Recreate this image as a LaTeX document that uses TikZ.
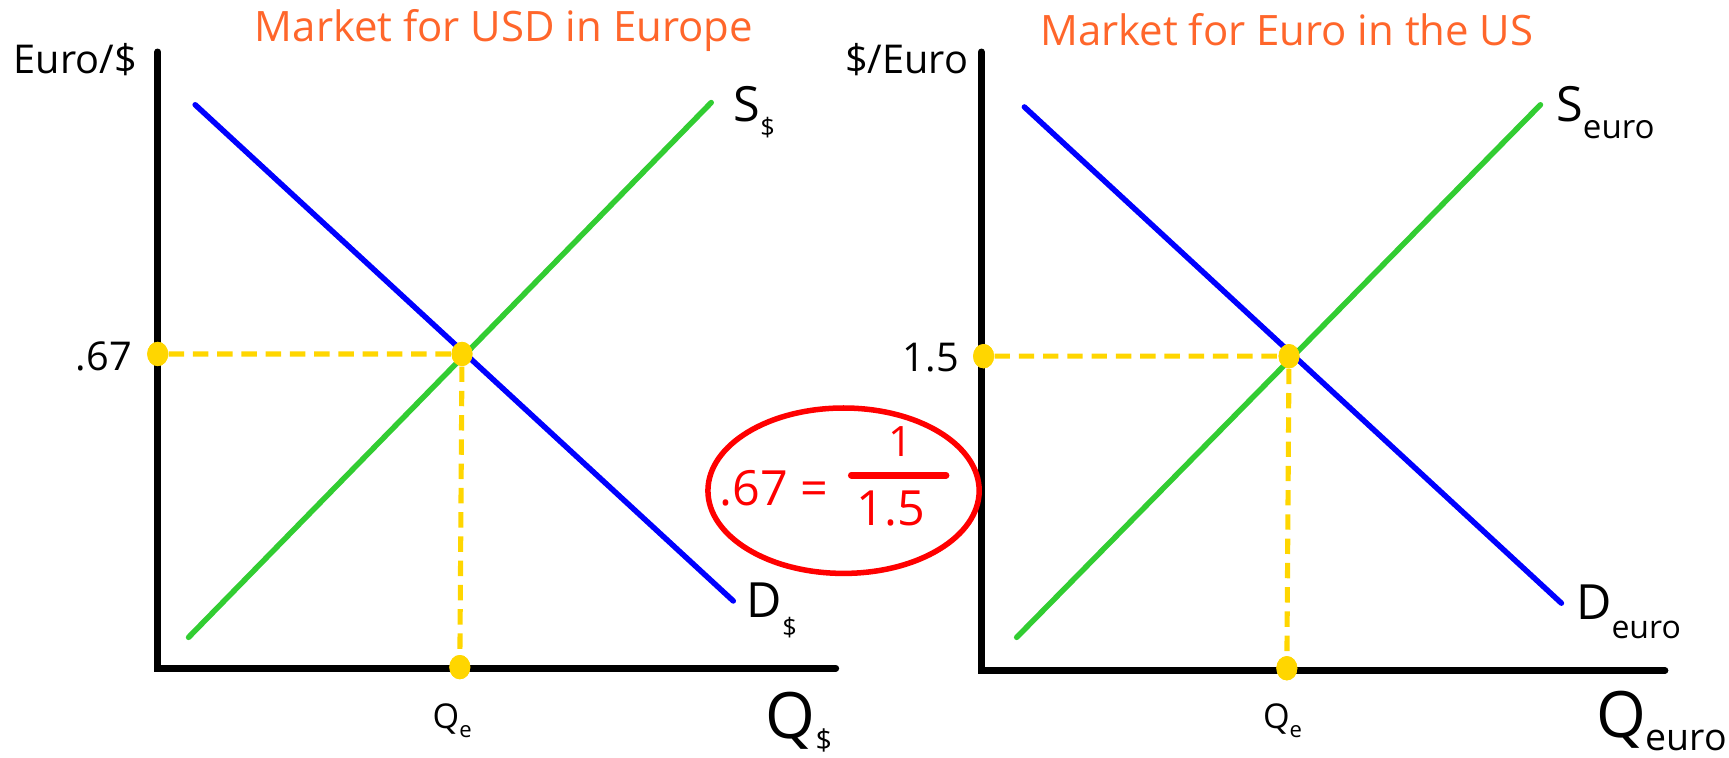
\documentclass[tikz,border=0pt]{standalone}
\usepackage{fontspec}
\setmainfont{Open Sans}
\usetikzlibrary{shapes.geometric}
\definecolor{ttl}{RGB}{255,102,43}
\definecolor{sgreen}{RGB}{50,205,50}
\definecolor{gold}{RGB}{255,214,0}
\newcommand\fs[1]{\fontsize{#1}{#1}\selectfont}
\newcommand\lowsub[2]{\raisebox{-#1}{#2}}
\begin{document}
\begin{tikzpicture}[x=0.5pt,y=-0.5pt,
  axis/.style={line width=3pt,line cap=round},
  dem/.style={blue,line width=2.5pt,line cap=round},
  supply/.style={sgreen,line width=2.5pt,line cap=round},
  guide/.style={gold,line width=2.3pt,dash pattern=on 7pt off 4pt},
  dot/.style={ellipse,fill=gold,inner sep=0pt,minimum width=9.5pt,minimum height=11pt},
  title/.style={text=ttl,anchor=base,font=\fs{19}},
  axlbl/.style={font=\fs{18},inner sep=0pt},
  curvelbl/.style={inner sep=0pt,anchor=base west},
  redtxt/.style={text=red}]
\useasboundingbox (0,0) rectangle (1568,687);
% titles
\node[title] (t1) at (457,38) {Market for USD in Europe};
\node[title] (t2) at (1167,41) {Market for Euro in the US};
% ---------- left panel ----------
\coordinate (yt1) at (143,47);
\coordinate (o1) at (143,606);
\coordinate (xe1) at (758,606);
\draw[axis] (yt1) -- (o1) -- (xe1);
\coordinate (d1a) at (177,95);
\coordinate (d1b) at (665,545);
\coordinate (s1a) at (171,578);
\coordinate (s1b) at (645,93);
\draw[dem] (d1a) -- (d1b);
\draw[supply] (s1a) -- (s1b);
\node[dot] (p1) at (143,321) {};
\node[dot] (e1) at (419,321) {};
\node[dot] (q1) at (417,605) {};
\draw[guide] (p1) -- (e1) -- (q1);
\node[dot] at (p1) {};
\node[dot] at (e1) {};
\node[dot] at (q1) {};
\node[axlbl,anchor=base west] (yl1) at (12,67) {Euro/\$};
\node[axlbl,anchor=base east] (pl1) at (120,336) {.67};
\node[curvelbl] (sl1) at (665,110) {\fs{22}S\lowsub{7pt}{\fs{11.5}\$}};
\node[curvelbl] (dl1) at (677,560) {\fs{22}D\lowsub{8.5pt}{\fs{11.5}\$}};
\node[curvelbl] (qe1) at (392,661) {\fs{15.5}Q\lowsub{4pt}{\fs{10}e}};
\node[curvelbl] (ql1) at (694,670) {\fs{29}Q\lowsub{5.5pt}{\fs{13}\$}};
% ---------- right panel ----------
\coordinate (yt2) at (890,47);
\coordinate (o2) at (890,608);
\coordinate (xe2) at (1510,608);
\draw[axis] (yt2) -- (o2) -- (xe2);
\coordinate (d2a) at (929,97);
\coordinate (d2b) at (1416,547);
\coordinate (s2a) at (922,578);
\coordinate (s2b) at (1397,95);
\draw[dem] (d2a) -- (d2b);
\draw[supply] (s2a) -- (s2b);
\node[dot] (p2) at (892,323) {};
\node[dot] (e2) at (1169,323) {};
\node[dot] (q2) at (1167,606) {};
\draw[guide] (p2) -- (e2) -- (q2);
\node[dot] at (p2) {};
\node[dot] at (e2) {};
\node[dot] at (q2) {};
\node[axlbl,anchor=base west] (yl2) at (766,67) {\$/Euro};
\node[axlbl,anchor=base east] (pl2) at (870,337) {1.5};
\node[curvelbl] (sl2) at (1411,110) {\fs{22}S\lowsub{8pt}{\fs{15}euro}};
\node[curvelbl] (dl2) at (1429,562) {\fs{22}D\lowsub{8.5pt}{\fs{14.5}euro}};
\node[curvelbl] (qe2) at (1145,661) {\fs{15.5}Q\lowsub{4pt}{\fs{10}e}};
\node[curvelbl] (ql2) at (1447,669) {\fs{29}Q\lowsub{6pt}{\fs{17}euro}};
% ---------- ratio ----------
\node[ellipse,draw=red,line width=2.5pt,minimum width=123pt,minimum height=75pt] (ring) at (765,445) {};
\node[redtxt,curvelbl,font=\fs{22}] (lhs) at (652,458) {.67 =};
\coordinate (bara) at (772,431);
\coordinate (barb) at (858,431);
\draw[red,line width=3pt,line cap=round] (bara) -- (barb);
\node[redtxt,anchor=base,inner sep=0pt,font=\fs{19}] (num) at (817,414) {1};
\node[redtxt,anchor=base,inner sep=0pt,font=\fs{22}] (den) at (808,477) {1.5};
\end{tikzpicture}
\end{document}
